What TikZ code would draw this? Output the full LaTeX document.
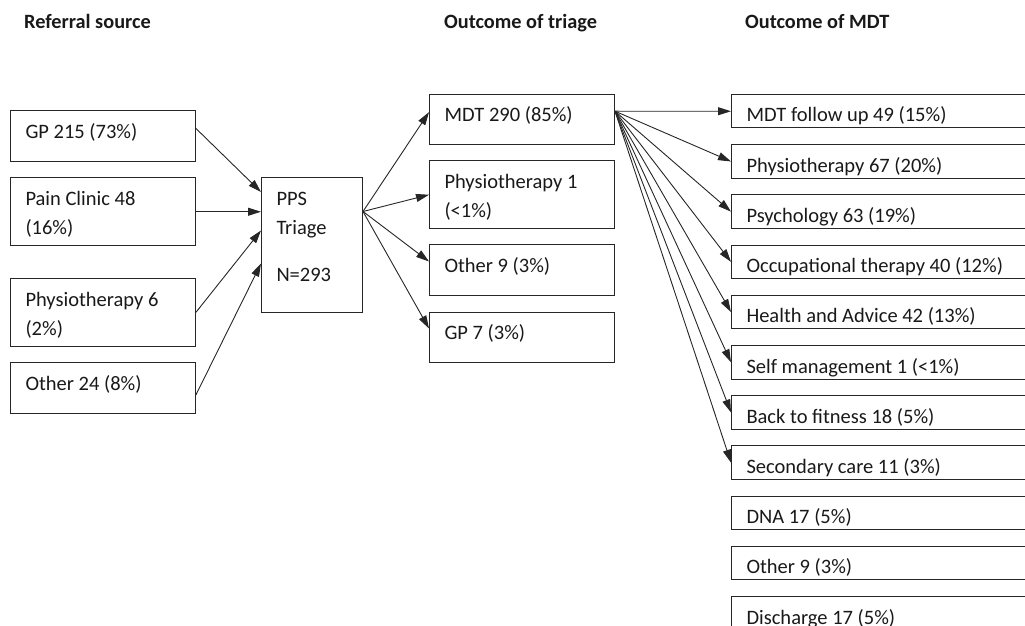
\documentclass[tikz,border=0pt]{standalone}
\usepackage{fontspec}
\setmainfont{Carlito}
\usepackage{tikz}
\usetikzlibrary{positioning, shapes}
\usetikzlibrary{arrows.meta}
\newcommand{\tightspace}{\spaceskip=0.226em\relax}

\begin{document}
\begin{tikzpicture}[x=1bp,y=-1bp]
        \tikzset{box/.style 2 args = {draw=black!85, line width=1bp, anchor=north west, inner xsep=15bp, inner ysep=0pt, text width=#1, text height=27.5bp, text depth=#2, text=black!90, font=\fontsize{20.5bp}{29bp}\selectfont, execute at begin node=\tightspace}}
        \tikzset{flow/.style = {-{Triangle[length=13bp,width=8bp]}, line width=0.9bp, black!85}}
        \tikzset{head/.style = {anchor=base west, inner sep=0pt, text=black!90, font=\fontsize{20.3bp}{24bp}\selectfont\bfseries}}

        \useasboundingbox (0,0) rectangle (1025,626);

        % headings
        \node[head] (refhead) at (24,28.5) {Referral source};
        \node[head] (triagehead) at (444,28.5) {Outcome of triage};
        \node[head] (mdthead) at (745,28.5) {Outcome of MDT};

        % referral source
        \node[box={155bp}{23.5bp}] (gp) at (10,110.5) {GP 215 (73\%)};
        \node[box={155bp}{40bp}] (pain) at (10,177.5) {Pain Clinic 48\\(16\%)};
        \node[box={155bp}{40bp}] (physio) at (10,278) {Physiotherapy 6\\(2\%)};
        \node[box={155bp}{23bp}] (other) at (10,362) {Other 24 (8\%)};

        \node[box={71bp}{106.5bp}] (pps) at (261,177.5) {PPS\\Triage\\[18bp]N=293};

        % outcome of triage
        \node[box={155bp}{22.5bp}] (mdt) at (429,94) {MDT 290 (85\%)};
        \node[box={155bp}{40bp}] (tphysio) at (429,160.5) {Physiotherapy 1\\(<1\%)};
        \node[box={155bp}{23.5bp}] (tother) at (429,244) {Other 9 (3\%)};
        \node[box={155bp}{23bp}] (tgp) at (429,311.5) {GP 7 (3\%)};

        % outcome of MDT
        \node[box={290bp}{6bp}] (mfollow) at (731,94) {MDT follow up 49 (15\%)};
        \node[box={290bp}{6bp}] (mphysio) at (731,144.2) {Physiotherapy 67 (20\%)};
        \node[box={290bp}{6bp}] (mpsych) at (731,194.4) {Psychology 63 (19\%)};
        \node[box={290bp}{6bp}] (mot) at (731,244.6) {Occupational therapy 40 (12\%)};
        \node[box={290bp}{6bp}] (mhealth) at (731,294.8) {Health and Advice 42 (13\%)};
        \node[box={290bp}{6bp}] (mself) at (731,345) {Self management 1 (<1\%)};
        \node[box={290bp}{6bp}] (mback) at (731,395.2) {Back to fitness 18 (5\%)};
        \node[box={290bp}{6bp}] (msecond) at (731,445.4) {Secondary care 11 (3\%)};
        \node[box={290bp}{6bp}] (mdna) at (731,495.6) {DNA 17 (5\%)};
        \node[box={290bp}{6bp}] (mother) at (731,545.8) {Other 9 (3\%)};
        \node[box={290bp}{6bp}] (mdisch) at (731,596) {Discharge 17 (5\%)};

        % arrows
        \draw[flow] ([yshift=8bp]gp.east) -- ([yshift=53bp]pps.west);
        \draw[flow] (pain.east) -- (pain.east -| pps.west);
        \draw[flow] (physio.east) -- ([yshift=14.5bp]pps.west);
        \draw[flow] ([yshift=-7bp]other.east) -- ([yshift=-18.5bp]pps.west);

        \coordinate (ppsout) at ([yshift=33.5bp]pps.east);
        \draw[flow] (ppsout) -- ([yshift=7.3bp]mdt.west);
        \draw[flow] (ppsout) -- (tphysio.west);
        \draw[flow] (ppsout) -- ([yshift=8.5bp]tother.west);
        \draw[flow] (ppsout) -- ([yshift=8.75bp]tgp.west);

        \coordinate (mdtout) at ([yshift=8.3bp]mdt.east);
        \draw[flow] (mdtout) -- (mfollow.west);
        \draw[flow] (mdtout) -- (mphysio.west);
        \draw[flow] (mdtout) -- (mpsych.west);
        \draw[flow] (mdtout) -- (mot.west);
        \draw[flow] (mdtout) -- (mhealth.west);
        \draw[flow] (mdtout) -- (mself.west);
        \draw[flow] (mdtout) -- (mback.west);
        \draw[flow] (mdtout) -- (msecond.west);

    \end{tikzpicture}
\end{document}
